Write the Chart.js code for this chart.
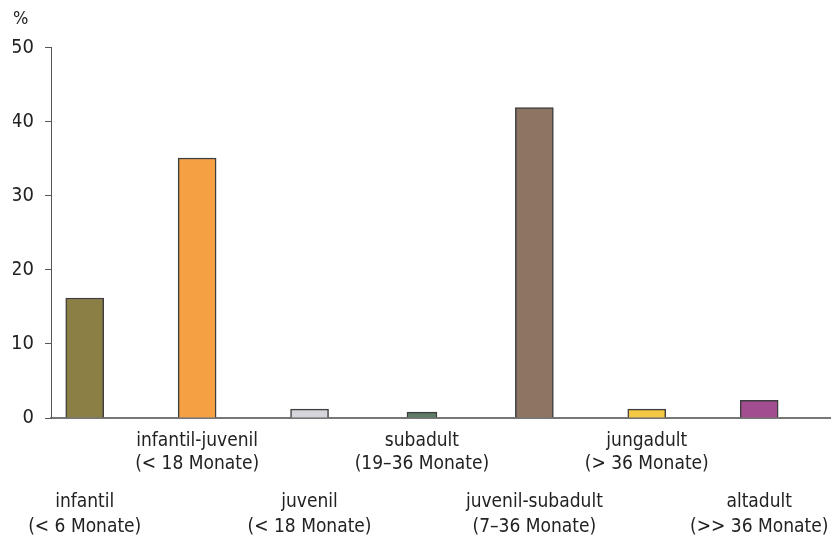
<!DOCTYPE html>
<html>
<head>
<meta charset="utf-8">
<script src="https://cdn.jsdelivr.net/npm/chart.js@4/dist/chart.umd.min.js"></script>
<style>
  html, body { margin: 0; padding: 0; background: #fff; }
  #wrap { width: 835px; height: 541px; }
</style>
</head>
<body>
<div id="wrap"><canvas id="chart"></canvas></div>
<script>
const categories = ["infantil", "infantil-juvenil", "juvenil", "subadult", "juvenil-subadult", "jungadult", "altadult"];
const subLabels = ["(< 6 Monate)", "(< 18 Monate)", "(< 18 Monate)", "(19\u201336 Monate)", "(7\u201336 Monate)", "(> 36 Monate)", "(>> 36 Monate)"];
const values = [16.2, 35.1, 1.2, 0.8, 41.9, 1.2, 2.4];
const colors = ["#8c7f45", "#f5a143", "#d5d5db", "#5f7b68", "#8e7563", "#f5c843", "#a14d8f"];
const yTicks = [0, 10, 20, 30, 40, 50];

const font = "'DejaVu Sans Condensed', 'Liberation Sans Narrow', sans-serif";

// subadult is drawn narrower in the original
const narrowIdx = 3;
const mainPoints = values.map((v, i) => ({ x: i, y: i === narrowIdx ? null : v }));
const narrowPoints = values.map((v, i) => ({ x: i, y: i === narrowIdx ? v : null }));

function label(i) {
  return [categories[i], subLabels[i]];
}

const xRange = { min: -0.3, max: 6.63 };

new Chart(document.getElementById("chart"), {
  type: "bar",
  data: {
    datasets: [
      {
        data: mainPoints,
        backgroundColor: colors,
        borderColor: "#3e3e3e",
        borderWidth: 1.5,
        borderSkipped: "bottom",
        barThickness: 38,
        grouped: false,
      },
      {
        data: narrowPoints,
        backgroundColor: colors,
        borderColor: "#3e3e3e",
        borderWidth: 1.5,
        borderSkipped: "bottom",
        barThickness: 30,
        grouped: false,
      },
    ],
  },
  options: {
    responsive: true,
    maintainAspectRatio: false,
    animation: false,
    layout: { padding: { left: 13, right: 5, top: 9, bottom: 0 } },
    plugins: {
      legend: { display: false },
      tooltip: { enabled: false },
      title: {
        display: true,
        text: "%",
        align: "start",
        color: "#222",
        font: { family: font, size: 18, weight: "normal" },
        padding: { top: 0, bottom: 17 },
      },
    },
    scales: {
      x: {
        type: "linear",
        min: xRange.min,
        max: xRange.max,
        offset: false,
        grid: { display: false, drawTicks: false },
        border: { display: true, color: "#777", width: 2 },
        afterBuildTicks: (s) => { s.ticks = [1, 3, 5].map((v) => ({ value: v })); },
        afterFit: (s) => { s.height = 60; s.paddingLeft = 0; s.paddingRight = 0; },
        ticks: {
          autoSkip: false,
          maxRotation: 0,
          padding: 12,
          color: "#222",
          font: { family: font, size: 19, lineHeight: 1.2 },
          callback: (v) => label(v),
        },
      },
      x2: {
        type: "linear",
        position: "bottom",
        min: xRange.min,
        max: xRange.max,
        offset: false,
        grid: { display: false, drawTicks: false },
        border: { display: false },
        afterBuildTicks: (s) => { s.ticks = [0, 2, 4, 6].map((v) => ({ value: v })); },
        afterFit: (s) => { s.height = 63; s.paddingLeft = 0; s.paddingRight = 0; },
        ticks: {
          autoSkip: false,
          maxRotation: 0,
          padding: 12,
          color: "#222",
          font: { family: font, size: 19, lineHeight: 1.3 },
          callback: (v) => label(v),
        },
      },
      y: {
        min: 0,
        max: 50,
        afterBuildTicks: (s) => { s.ticks = yTicks.map((v) => ({ value: v })); },
        afterFit: (s) => { s.width = 38; },
        grid: { drawOnChartArea: false, drawTicks: true, tickLength: 6, color: "#555" },
        border: { display: true, color: "#555", width: 1 },
        ticks: {
          padding: 11,
          color: "#222",
          font: { family: font, size: 20 },
        },
      },
    },
  },
});
</script>
</body>
</html>
